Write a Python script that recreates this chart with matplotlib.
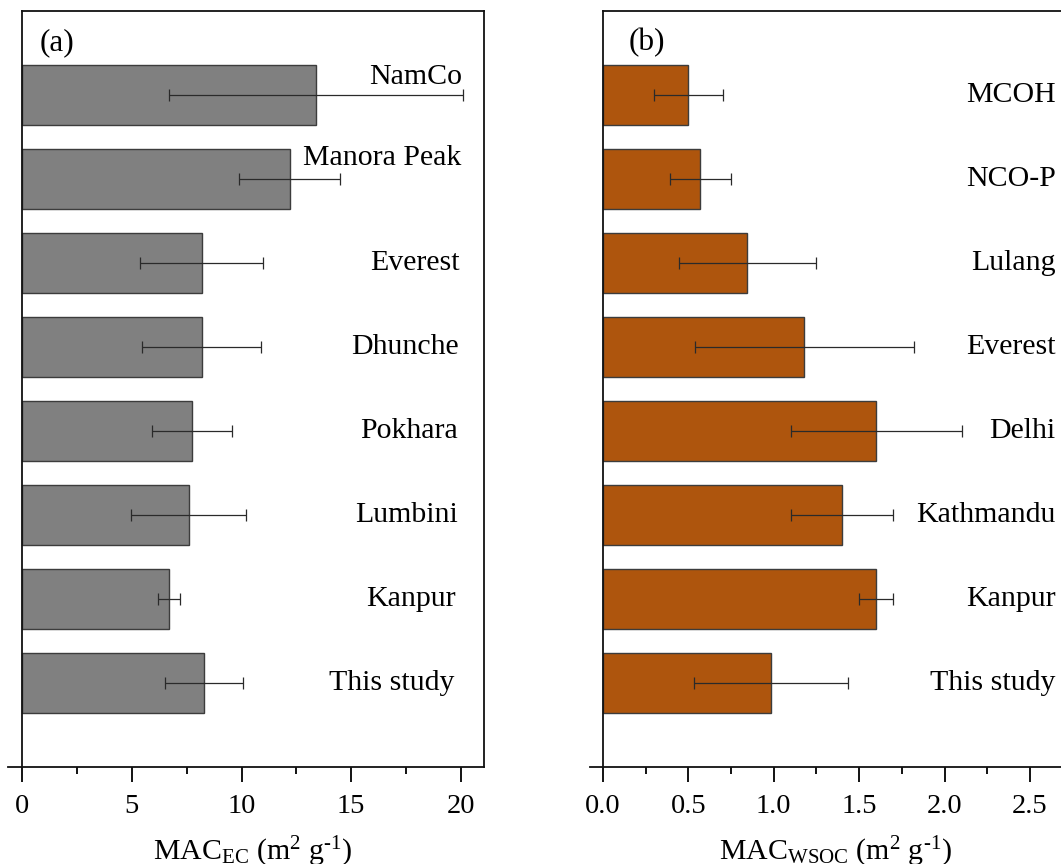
import matplotlib
matplotlib.use("Agg")
import matplotlib.pyplot as plt
from matplotlib.ticker import MultipleLocator

plt.rcParams['font.family'] = ['Liberation Serif', 'DejaVu Serif']
plt.rcParams['mathtext.fontset'] = 'custom'
plt.rcParams['mathtext.rm'] = 'Liberation Serif'
plt.rcParams['mathtext.it'] = 'Liberation Serif:italic'
plt.rcParams['mathtext.bf'] = 'Liberation Serif:bold'

# Panel (a): MAC of EC
sites_ec = ["This study", "Kanpur", "Lumbini", "Pokhara", "Dhunche", "Everest", "Manora Peak", "NamCo"]
mac_ec = [8.29, 6.71, 7.59, 7.74, 8.18, 8.18, 12.2, 13.4]
err_ec = [1.76, 0.5, 2.63, 1.83, 2.72, 2.82, 2.3, 6.7]

# Panel (b): MAC of WSOC
sites_wsoc = ["This study", "Kanpur", "Kathmandu", "Delhi", "Everest", "Lulang", "NCO-P", "MCOH"]
mac_wsoc = [0.985, 1.60, 1.40, 1.60, 1.18, 0.845, 0.57, 0.50]
err_wsoc = [0.45, 0.10, 0.30, 0.50, 0.64, 0.40, 0.18, 0.20]

W, H = 1061, 864
fig = plt.figure(figsize=(W / 100, H / 100), dpi=100)

ax1 = fig.add_axes([8 / W, (H - 767) / H, 476 / W, 756 / H])
ax2 = fig.add_axes([590 / W, (H - 767) / H, 471 / W, 756 / H])

FS_LAB = 21.5
FS_TICK = 20.5


def style(ax, xmin, xmax, major, minor):
    ax.set_xlim(xmin, xmax)
    ax.set_ylim(-1, 8)
    ax.spines['left'].set_position(('data', 0))
    ax.spines['top'].set_bounds(0, xmax)
    for s in ax.spines.values():
        s.set_linewidth(1.3)
        s.set_color('#111111')
    ax.set_yticks([])
    ax.xaxis.set_major_locator(MultipleLocator(major))
    ax.xaxis.set_minor_locator(MultipleLocator(minor))
    ax.tick_params(axis='x', which='major', direction='out', length=10.5, width=1.3,
                   labelsize=FS_TICK, pad=9, top=False)
    ax.tick_params(axis='x', which='minor', direction='out', length=5, width=1.3, top=False)


ypos = list(range(len(sites_ec)))

ax1.barh(ypos, mac_ec, height=0.71, color='#808080', edgecolor='#3c3c3c', linewidth=1.0,
         xerr=err_ec, error_kw=dict(ecolor='#2a2a2a', elinewidth=0.9, capsize=4.5, capthick=0.9),
         zorder=2)
style(ax1, -0.64, 21.05, 5, 2.5)
ax1.set_xticks([0, 5, 10, 15, 20])
ax1.set_xlabel(r"MAC$_{\mathrm{EC}}$ (m$^{2}$ g$^{\text{-1}}$)", fontsize=FS_LAB)
ax1.xaxis.set_label_coords(0.515, -0.09)
label_dy_ec = [0, 0, 0, 0, 0, 0, 0.25, 0.21]
label_x_ec = [19.7, 19.75, 19.85, 19.85, 19.9, 19.95, 20.0, 20.05]
for y, name, dy, lx in zip(ypos, sites_ec, label_dy_ec, label_x_ec):
    ax1.text(lx, y + dy, name, ha='right', va='center', fontsize=FS_LAB)
ax1.text(0.067, 0.958, "(a)", transform=ax1.transAxes, ha='left', va='center', fontsize=FS_LAB + 1)

ax2.barh(ypos, mac_wsoc, height=0.71, color='#AE550D', edgecolor='#3c3c3c', linewidth=1.0,
         xerr=err_wsoc, error_kw=dict(ecolor='#2a2a2a', elinewidth=0.9, capsize=4.5, capthick=0.9),
         zorder=2)
style(ax2, -0.076, 2.682, 0.5, 0.25)
ax2.spines['right'].set_visible(False)
ax2.set_xticks([0.0, 0.5, 1.0, 1.5, 2.0, 2.5])
ax2.set_xticklabels(["0.0", "0.5", "1.0", "1.5", "2.0", "2.5"])
ax2.set_xlabel(r"MAC$_{\mathrm{WSOC}}$ (m$^{2}$ g$^{\text{-1}}$)", fontsize=FS_LAB)
ax2.xaxis.set_label_coords(0.522, -0.09)
for y, name in zip(ypos, sites_wsoc):
    ax2.text(2.65, y, name, ha='right', va='center', fontsize=FS_LAB)
ax2.text(0.081, 0.958, "(b)", transform=ax2.transAxes, ha='left', va='center', fontsize=FS_LAB + 1)

fig.savefig("out.png", dpi=100)
